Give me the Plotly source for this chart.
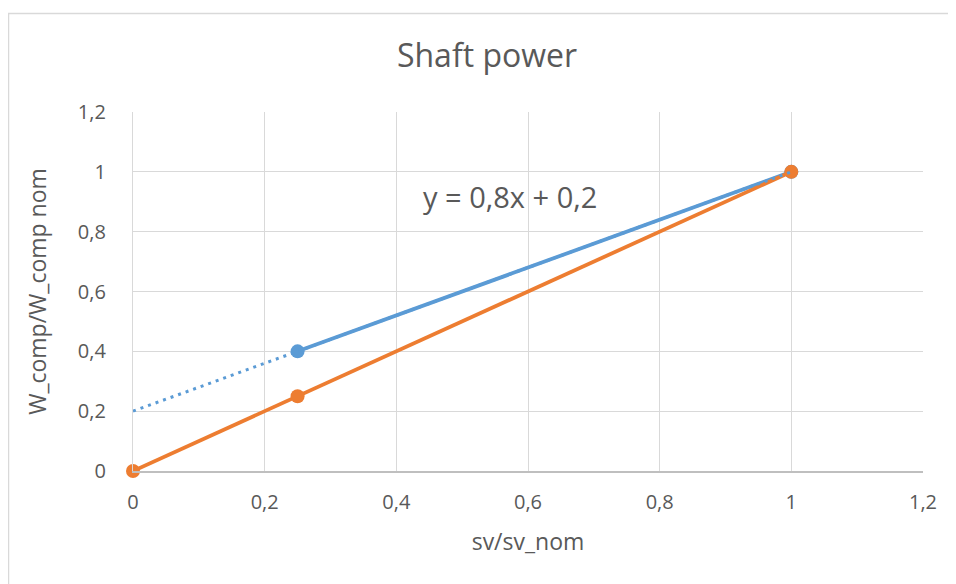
import plotly.graph_objects as go

# Data
orange_x = [0, 0.25, 1]
orange_y = [0, 0.25, 1]
blue_x = [0.25, 1]
blue_y = [0.4, 1]
trend_slope = 0.8
trend_intercept = 0.2
trend_x = [0, 1]
trend_y = [trend_slope * x + trend_intercept for x in trend_x]
tick_vals = [0, 0.2, 0.4, 0.6, 0.8, 1, 1.2]
tick_text = ["0", "0,2", "0,4", "0,6", "0,8", "1", "1,2"]

BLUE = "#5B9BD5"
ORANGE = "#ED7D31"
TXT = "#595959"
FONT = "Open Sans"

fig = go.Figure()
fig.add_trace(go.Scatter(x=blue_x, y=blue_y, mode="lines+markers",
                         line=dict(color=BLUE, width=3.8), marker=dict(size=14, color=BLUE),
                         showlegend=False, cliponaxis=False))
fig.add_trace(go.Scatter(x=orange_x, y=orange_y, mode="lines+markers",
                         line=dict(color=ORANGE, width=3.8), marker=dict(size=14, color=ORANGE),
                         showlegend=False, cliponaxis=False))
fig.add_trace(go.Scatter(x=trend_x, y=trend_y, mode="lines",
                         line=dict(color=BLUE, width=3, dash="3px,5px"),
                         showlegend=False))

# page body has an 8px margin; figure coordinates = screen - 8
W, H = 948, 576
L, R, T, B = 125, 33, 104, 113
pw, ph = W - L - R, H - T - B

def fx(p):
    return (p - L) / pw

def fy(p):
    return (H - B - p) / ph

fig.add_shape(type="rect", xref="paper", yref="paper",
              x0=fx(0.5), x1=fx(990), y0=fy(600), y1=fy(5.5),
              line=dict(color="#D9D9D9", width=1.5), fillcolor="rgba(0,0,0,0)", layer="below")

fig.add_annotation(x=0.5727, y=0.916, xref="x", yref="y", text="y = 0,8x + 0,2",
                   showarrow=False, font=dict(family=FONT, size=29, color=TXT))

axis_common = dict(range=[0, 1.2], tickvals=tick_vals, ticktext=tick_text,
                   showgrid=True, gridcolor="#D9D9D9", gridwidth=1.3,
                   zeroline=False, tickfont=dict(family=FONT, size=20, color=TXT),
                   fixedrange=True, ticks="")

fig.update_layout(
    width=W, height=H,
    margin=dict(l=L, r=R, t=T, b=B),
    paper_bgcolor="white", plot_bgcolor="white",
    title=dict(text="Shaft power", x=479 / W, xanchor="center", y=1 - 48 / H, yanchor="middle",
               font=dict(family=FONT, size=32, color=TXT)),
    xaxis=dict(**axis_common, showline=True, linecolor="#BFBFBF", linewidth=1.5,
               ticklabelstandoff=12,
               title=dict(text="sv/sv_nom", font=dict(family=FONT, size=23, color=TXT), standoff=20)),
    yaxis=dict(**axis_common, showline=True, linecolor="#D9D9D9", linewidth=1.3,
               ticklabelstandoff=22,
               title=dict(text="W_comp/W_comp nom", font=dict(family=FONT, size=23, color=TXT), standoff=24)),
)
fig.write_html("out.html")
